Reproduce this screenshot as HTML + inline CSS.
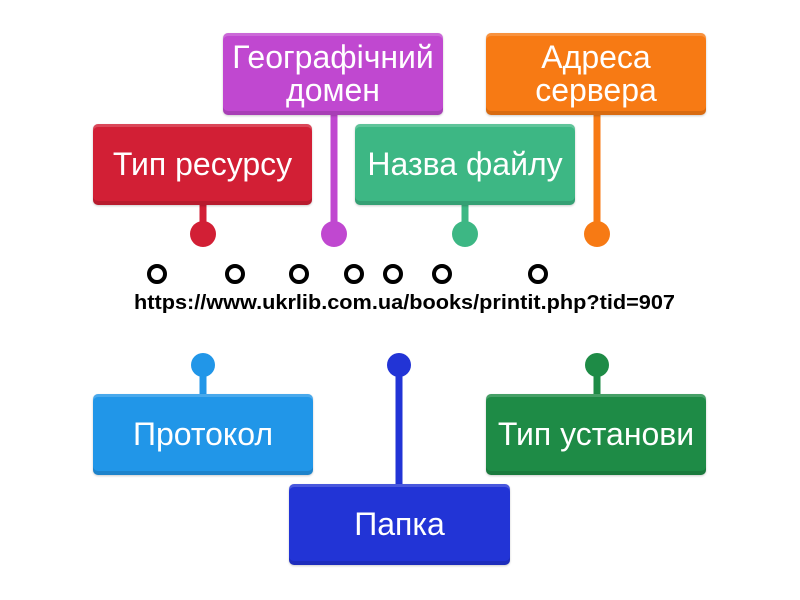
<!DOCTYPE html>
<html><head><meta charset="utf-8"><style>
html,body{margin:0;padding:0;background:#fff;}
.b{position:absolute;border-radius:5px;color:#fff;font-family:"Liberation Sans",sans-serif;font-size:32px;display:flex;align-items:center;justify-content:center;text-align:center;line-height:33px;box-shadow:inset 0 -4px 0 rgba(0,0,0,0.12),inset 0 3px 0 rgba(255,255,255,0.18),0 1px 2px rgba(0,0,0,0.2);}
</style></head><body>
<div style="position:relative;width:800px;height:600px;overflow:hidden;">
<svg width="800" height="600" style="position:absolute;left:0;top:0">
<g stroke-width="7">
<line x1="203" y1="200" x2="203" y2="234" stroke="#d21f35"/>
<line x1="334" y1="110" x2="334" y2="234" stroke="#c048d0"/>
<line x1="465" y1="200" x2="465" y2="234" stroke="#3db784"/>
<line x1="597" y1="110" x2="597" y2="234" stroke="#f77a14"/>
<line x1="203" y1="365" x2="203" y2="398" stroke="#2196e8"/>
<line x1="399" y1="365" x2="399" y2="488" stroke="#2234d6"/>
<line x1="597" y1="365" x2="597" y2="398" stroke="#1e8b46"/>
</g>
<circle cx="203" cy="234" r="13" fill="#d21f35"/>
<circle cx="334" cy="234" r="13" fill="#c048d0"/>
<circle cx="465" cy="234" r="13" fill="#3db784"/>
<circle cx="597" cy="234" r="13" fill="#f77a14"/>
<circle cx="203" cy="365" r="12" fill="#2196e8"/>
<circle cx="399" cy="365" r="12" fill="#2234d6"/>
<circle cx="597" cy="365" r="12" fill="#1e8b46"/>
<g fill="none" stroke="#000" stroke-width="4">
<circle cx="157" cy="274" r="8"/><circle cx="235" cy="274" r="8"/><circle cx="299" cy="274" r="8"/><circle cx="354" cy="274" r="8"/><circle cx="393" cy="274" r="8"/><circle cx="442" cy="274" r="8"/><circle cx="538" cy="274" r="8"/>
</g>
<text x="134" y="309" font-family="Liberation Sans, sans-serif" font-weight="bold" font-size="20" textLength="541" lengthAdjust="spacingAndGlyphs">https://www.ukrlib.com.ua/books/printit.php?tid=907</text>
</svg>
<div class="b" style="left:93px;top:124px;width:219px;height:81px;background:#d21f35">Тип ресурсу</div>
<div class="b" style="left:223px;top:33px;width:220px;height:82px;background:#c048d0">Географічний<br>домен</div>
<div class="b" style="left:355px;top:124px;width:220px;height:81px;background:#3db784">Назва файлу</div>
<div class="b" style="left:486px;top:33px;width:220px;height:82px;background:#f77a14">Адреса<br>сервера</div>
<div class="b" style="left:93px;top:394px;width:220px;height:81px;background:#2196e8">Протокол</div>
<div class="b" style="left:289px;top:484px;width:221px;height:81px;background:#2234d6">Папка</div>
<div class="b" style="left:486px;top:394px;width:220px;height:81px;background:#1e8b46">Тип установи</div>
</div>
</body></html>
